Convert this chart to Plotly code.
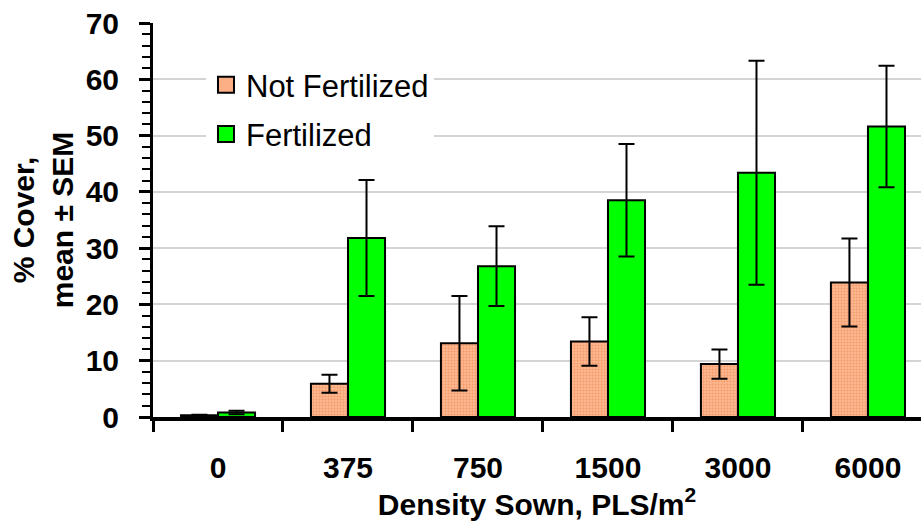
import plotly.graph_objects as go

categories = ["0", "375", "750", "1500", "3000", "6000"]
not_fert = [0.3, 5.9, 13.1, 13.4, 9.4, 23.9]
not_fert_err = [0.1, 1.6, 8.4, 4.3, 2.6, 7.8]
fert = [0.8, 31.8, 26.8, 38.5, 43.4, 51.6]
fert_err = [0.3, 10.3, 7.1, 10.0, 19.9, 10.8]
y_ticks = [0, 10, 20, 30, 40, 50, 60, 70]

orange = "#FCAE84"
green = "#00FF00"
font_family = "Liberation Sans, Arial, sans-serif"

fig = go.Figure()
fig.add_trace(go.Bar(
    x=categories, y=not_fert, name="Not Fertilized", showlegend=False,
    marker=dict(color=orange, line=dict(color="black", width=2),
                pattern=dict(shape=".", fgcolor="#F39A68", bgcolor="#FDB790",
                             size=3, solidity=0.35, fillmode="replace")),
    error_y=dict(type="data", array=not_fert_err, visible=True,
                 color="black", thickness=2, width=8),
))
fig.add_trace(go.Bar(
    x=categories, y=fert, name="Fertilized", showlegend=False,
    marker=dict(color=green, line=dict(color="black", width=2)),
    error_y=dict(type="data", array=fert_err, visible=True,
                 color="black", thickness=2, width=8),
))
# legend entries
fig.add_trace(go.Scatter(
    x=[None], y=[None], mode="markers", name="Not Fertilized",
    legendgroup="a",
    marker=dict(symbol="square", size=16, color=orange,
                line=dict(color="black", width=2)),
))
fig.add_trace(go.Scatter(
    x=[None], y=[None], mode="markers", name="Fertilized",
    legendgroup="b",
    marker=dict(symbol="square", size=16, color=green,
                line=dict(color="black", width=2)),
))

fig.update_layout(
    width=921, height=521,
    margin=dict(l=153, r=0, t=23, b=104, autoexpand=False),
    plot_bgcolor="white", paper_bgcolor="white",
    barmode="group", bargap=0.43, bargroupgap=0,
    font=dict(family=font_family, color="black"),
    legend=dict(
        x=0.069, xanchor="left", y=0.911, yanchor="top",
        bgcolor="white", font=dict(size=31, family=font_family),
        traceorder="grouped", tracegroupgap=6, itemsizing="trace",
    ),
    xaxis=dict(
        type="category", range=[-0.5, 5.408], automargin=False,
        showline=True, linecolor="black", linewidth=4,
        ticks="outside", ticklen=11, tickwidth=3, tickcolor="black",
        tickson="boundaries", showgrid=False,
        tickfont=dict(size=30, family=font_family, weight="bold"),
        ticklabelstandoff=21,
        title=dict(text="<b>Density Sown, PLS/m<sup>2</sup></b>",
                   font=dict(size=30, family=font_family), standoff=4),
    ),
    yaxis=dict(
        range=[0, 70], tickvals=y_ticks, ticktext=[str(v) for v in y_ticks],
        automargin=False,
        showline=True, linecolor="black", linewidth=3,
        ticks="outside", ticklen=11, tickwidth=2.5, tickcolor="black",
        showgrid=True, gridcolor="#D4D4D4", gridwidth=1.5,
        zeroline=False,
        minor=dict(dtick=2, ticks="outside", ticklen=8, tickwidth=2,
                   tickcolor="black", showgrid=False),
        tickfont=dict(size=30, family=font_family, weight="bold"),
        ticklabelstandoff=14,
        title=dict(text="<b>% Cover,<br>mean ± SEM</b>",
                   font=dict(size=30, family=font_family), standoff=4),
    ),
)

fig.write_html("out.html",
               config={"displayModeBar": False},
               post_script="document.body.style.margin='0';document.body.style.overflow='hidden';")
